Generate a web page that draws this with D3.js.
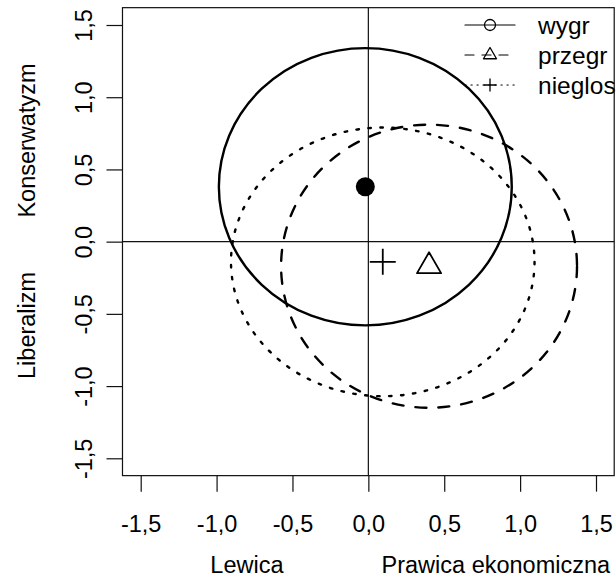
<!DOCTYPE html>
<html><head><meta charset="utf-8">
<script src="https://cdn.jsdelivr.net/npm/d3@7"></script>
<style>
html,body{margin:0;padding:0;background:#fff;}
svg{display:block;font-family:"Liberation Sans",Arial,Helvetica,sans-serif;}
</style></head>
<body>
<svg id="chart" width="616" height="578"></svg>
<script>
// ---- data ----
const groups = ["wygr", "przegr", "nieglos"];
const centerX = [-0.02, 0.40, 0.095];
const centerY = [0.38, -0.17, -0.14];
const radiusX = [0.965, 0.975, 1.0];
const radiusY = [0.96, 0.98, 0.93];
const tickValues = [-1.5, -1.0, -0.5, 0.0, 0.5, 1.0, 1.5];
const xTitles = [{label: "Lewica", at: -0.80}, {label: "Prawica ekonomiczna", at: 0.84}];
const yTitles = [{label: "Konserwatyzm", at: 0.70}, {label: "Liberalizm", at: -0.58}];

// ---- styles ----
const dashes = [null, "11,12", "2.5,9.5"];
const legendDashes = [null, "9,8", "1.2,4.8"];
const FS = 23.5;
const LFS = 24.5;

const svg = d3.select("#chart");
const x = d3.scaleLinear().domain([-1.5, 1.5]).range([140.7, 596]);
const y = d3.scaleLinear().domain([-1.5, 1.5]).range([458.3, 25]);
const x0 = x(-1.62), x1 = x(1.62), y0 = y(1.62), y1 = y(-1.62);

const loc = d3.formatLocale({decimal: ",", thousands: ".", grouping: [3], currency: ["", ""], minus: "-"});
const fmt = loc.format(".1f");

// clip
svg.append("defs").append("clipPath").attr("id", "plotclip")
  .append("rect").attr("x", x0).attr("y", y0).attr("width", x1 - x0).attr("height", y1 - y0);

const plot = svg.append("g").attr("clip-path", "url(#plotclip)");

// reference lines
plot.append("line").attr("x1", x0).attr("x2", x1).attr("y1", y(0)).attr("y2", y(0))
  .attr("stroke", "#111").attr("stroke-width", 1.2);
plot.append("line").attr("x1", x(0)).attr("x2", x(0)).attr("y1", y0).attr("y2", y1)
  .attr("stroke", "#111").attr("stroke-width", 1.2);

// ellipses
groups.forEach((g, i) => {
  plot.append("ellipse")
    .attr("cx", x(centerX[i])).attr("cy", y(centerY[i]))
    .attr("rx", x(radiusX[i]) - x(0)).attr("ry", y(0) - y(radiusY[i]))
    .attr("fill", "none").attr("stroke", "#000").attr("stroke-width", 2.4)
    .attr("stroke-linecap", "round")
    .attr("stroke-dasharray", dashes[i]);
});

// markers
function marker(sel, type, cx, cy, s, sw) {
  if (type === 0) {
    sel.append("circle").attr("cx", cx).attr("cy", cy).attr("r", s).attr("fill", "#000");
  } else if (type === 3) {
    sel.append("circle").attr("cx", cx).attr("cy", cy).attr("r", s)
      .attr("fill", "none").attr("stroke", "#000").attr("stroke-width", sw);
  } else if (type === 1) {
    const r = s, xc = r * Math.sqrt(3) / 2, yc = r / 2;
    sel.append("path")
      .attr("d", `M${cx},${cy - r}L${cx + xc},${cy + yc}L${cx - xc},${cy + yc}Z`)
      .attr("fill", "none").attr("stroke", "#000").attr("stroke-width", sw).attr("stroke-linejoin", "round");
  } else {
    sel.append("path")
      .attr("d", `M${cx - s},${cy}H${cx + s}M${cx},${cy - s}V${cy + s}`)
      .attr("fill", "none").attr("stroke", "#000").attr("stroke-width", sw);
  }
}
marker(plot, 0, x(centerX[0]), y(centerY[0]), 9.5, 0);
marker(plot, 1, x(centerX[1]), y(centerY[1]), 13.9, 1.8);
marker(plot, 2, x(centerX[2]), y(centerY[2]), 13, 1.8);

// legend
const legendRowsY = [25, 55, 85];
const leg = svg.append("g");
groups.forEach((g, i) => {
  const ly = legendRowsY[i];
  leg.append("line").attr("x1", 465).attr("x2", 515).attr("y1", ly).attr("y2", ly)
    .attr("stroke", "#000").attr("stroke-width", 1.2).attr("stroke-linecap", "round")
    .attr("stroke-dasharray", legendDashes[i]);
  if (i === 0) marker(leg, 3, 490, ly, 5.5, 1.3);
  if (i === 1) marker(leg, 1, 490, ly, 7.5, 1.3);
  if (i === 2) marker(leg, 2, 490, ly, 6.5, 1.3);
  leg.append("text").attr("x", 538).attr("y", ly).attr("dy", "0.36em")
    .attr("font-size", LFS).attr("fill", "#000").text(g);
});

// box
svg.append("rect").attr("x", x0).attr("y", y0).attr("width", x1 - x0).attr("height", y1 - y0)
  .attr("fill", "none").attr("stroke", "#111").attr("stroke-width", 1.2);

// axes
const xAxis = svg.append("g").attr("transform", `translate(0,${y1})`)
  .call(d3.axisBottom(x).tickValues(tickValues).tickSize(16).tickFormat(fmt));
xAxis.select(".domain").remove();
xAxis.selectAll(".tick line").attr("stroke", "#111").attr("stroke-width", 1.2);
xAxis.selectAll(".tick text").attr("y", 532 - y1).attr("dy", 0)
  .attr("font-size", FS).attr("font-family", "Liberation Sans, Arial, sans-serif").attr("fill", "#000");

const yAxis = svg.append("g").attr("transform", `translate(${x0},0)`)
  .call(d3.axisLeft(y).tickValues(tickValues).tickSize(16).tickFormat(fmt));
yAxis.select(".domain").remove();
yAxis.selectAll(".tick line").attr("stroke", "#111").attr("stroke-width", 1.2);
yAxis.selectAll(".tick text")
  .attr("transform", "rotate(-90)").attr("x", 0).attr("y", 92 - x0).attr("dy", 0)
  .attr("text-anchor", "middle")
  .attr("font-size", FS).attr("font-family", "Liberation Sans, Arial, sans-serif").attr("fill", "#000");

// axis titles
xTitles.forEach(t => {
  svg.append("text").attr("x", x(t.at)).attr("y", 573).attr("text-anchor", "middle")
    .attr("font-size", FS).attr("fill", "#000").text(t.label);
});
yTitles.forEach(t => {
  svg.append("text").attr("transform", `translate(35,${y(t.at)}) rotate(-90)`)
    .attr("text-anchor", "middle").attr("font-size", FS).attr("fill", "#000").text(t.label);
});
</script>
</body></html>
